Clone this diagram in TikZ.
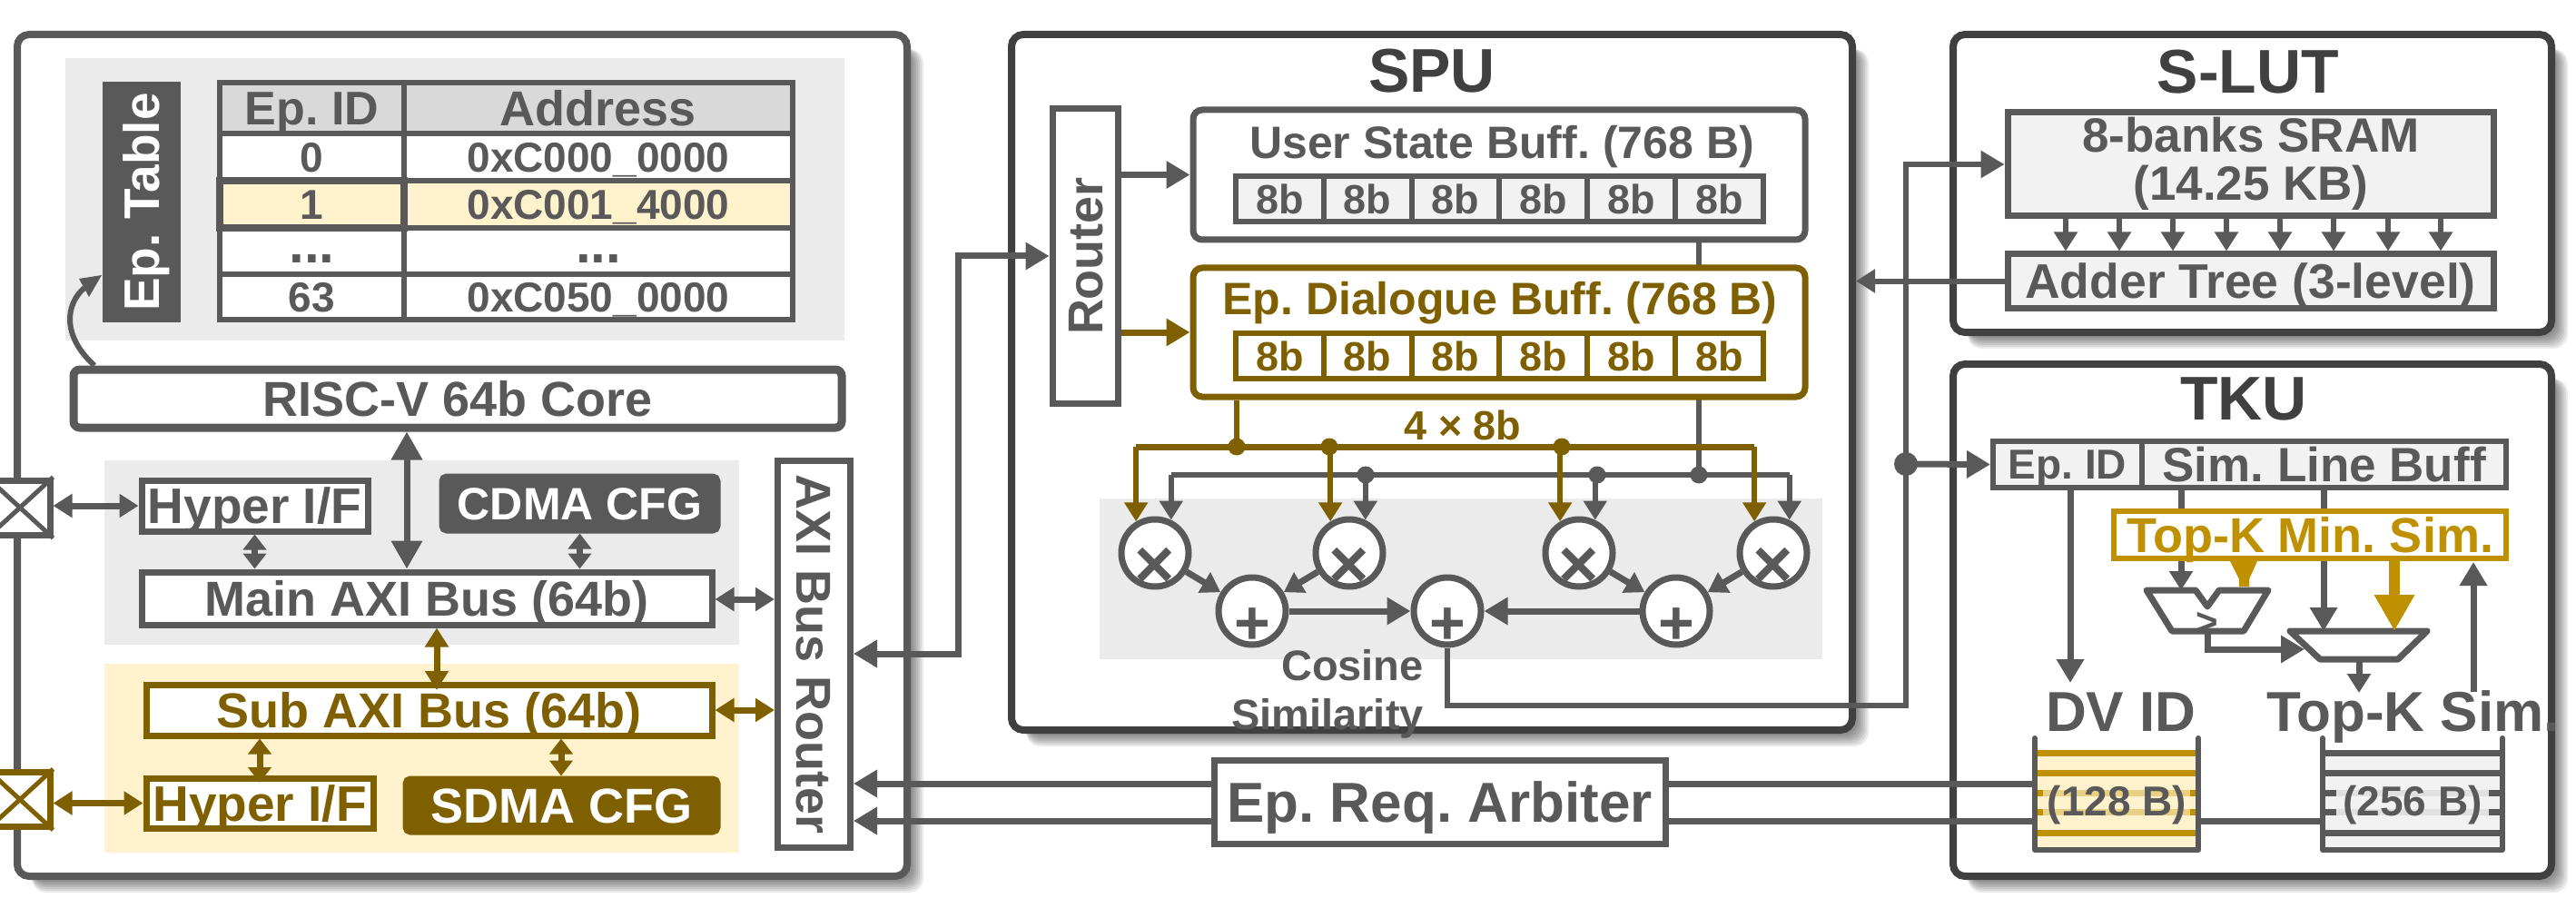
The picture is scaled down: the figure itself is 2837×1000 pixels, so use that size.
\documentclass[tikz,border=0pt]{standalone}
\usepackage{fontspec}
\setmainfont{Liberation Sans}
\usetikzlibrary{arrows.meta,calc}
\definecolor{dg}{HTML}{595959}
\definecolor{dk}{HTML}{404040}
\definecolor{br}{HTML}{7F6000}
\definecolor{au}{HTML}{BF9000}
\definecolor{yl}{HTML}{FFF2CC}
\definecolor{lg}{HTML}{EBEBEB}
\definecolor{hd}{HTML}{D9D9D9}
\definecolor{cf}{HTML}{F2F2F2}
\pgfdeclarelayer{bg}\pgfdeclarelayer{mid}\pgfdeclarelayer{top}
\pgfsetlayers{bg,mid,main,top}
\newcommand\fs[1]{\fontsize{#1}{#1}\selectfont}
\newcommand\tx[2]{{\fs{#1}\raisebox{-.358em}[.358em][.358em]{#2}}}
\newcommand\bx[7]{\node[#6,minimum width={(#4-#2)*1pt},minimum height={(#5-#3)*1pt}] (#1) at ({(#2+#4)/2},{(#3+#5)/2}) {#7};}
\newcommand\softshadow[4]{\foreach \k in {0,...,6}{\fill[black,opacity=.08,rounded corners=16pt] ({#1+16},{#2+16}) rectangle ({#3+6+2*\k},{#4+6+2*\k});}}
\tikzset{
 x=1pt,y=-1pt,
 tss/.tip={Triangle[length=17pt,width=25pt]},
 ts/.tip={Triangle[length=21pt,width=25pt]},
 tm/.tip={Triangle[length=26pt,width=29pt]},
 tl/.tip={Triangle[length=31pt,width=33pt]},
 base/.style={draw=dg,line width=7pt,fill=white,text=dg,font=\bfseries,inner sep=0pt},
 gold/.style={base,draw=br,text=br},
 solidg/.style={base,fill=dg,text=white,rounded corners=5pt},
 solidb/.style={base,draw=br,fill=br,text=white,rounded corners=5pt},
 frame/.style={draw=dk,line width=8pt,fill=white,inner sep=0pt,rounded corners=13pt},
 framet/.style={text=dk,font=\bfseries,inner sep=0pt},
 lab/.style={text=dg,font=\bfseries,inner sep=0pt},
 cel/.style={base,line width=6pt},
 opn/.style={base,circle,minimum size=74pt,line width=7pt},
 gl/.style={draw=dg,line width=7pt,line join=miter},
 bl/.style={draw=br,line width=7pt,line join=miter},
 al/.style={draw=au,line width=12pt},
 dotg/.style={circle,fill=dg,inner sep=0pt,minimum size=19pt},
 dotb/.style={circle,fill=br,inner sep=0pt,minimum size=19pt},
 pad/.style={draw=#1,line width=7pt,fill=white,minimum width=66pt,minimum height=60pt,inner sep=0pt},
}
\begin{document}
\begin{tikzpicture}
\useasboundingbox (0,0) rectangle (2837,1000);
% ---- containers
\begin{pgfonlayer}{bg}
\softshadow{19}{38}{999}{965}
\softshadow{1114}{38}{2040}{804}
\softshadow{2151}{38}{2810}{366}
\softshadow{2151}{401}{2810}{965}
\bx{cpu}{19}{38}{999}{965}{frame,draw=dg}{}
\bx{spu}{1114}{38}{2040}{804}{frame}{}
\bx{slut}{2151}{38}{2810}{366}{frame}{}
\bx{tku}{2151}{401}{2810}{965}{frame}{}
\bx{bgtab}{72}{64}{930}{375}{fill=lg,inner sep=0pt}{}
\bx{bgmain}{115}{507}{814}{710}{fill=lg,inner sep=0pt}{}
\bx{bgsub}{115}{731}{814}{939}{fill=yl,inner sep=0pt}{}
\bx{bgcos}{1211}{549}{2007}{726}{fill=lg,inner sep=0pt}{}
\end{pgfonlayer}
% ---- titles
\node[framet] (tspu) at (1577,77) {\tx{68}{SPU}};
\node[framet] (tslut) at (2476,78) {\tx{68}{S-LUT}};
\node[framet] (ttku) at (2471,438) {\tx{68}{TKU}};
% ---- Ep table
\node[fill=dg,text=white,font=\bfseries,inner sep=0pt,rotate=90,minimum width=265pt,minimum height=86pt] (eptab) at (156,222.5) {\tx{55}{Ep.\ Table}};
\bx{h1}{242}{91}{445}{147}{cel,fill=hd}{\raisebox{2pt}{\tx{52}{Ep.\ ID}}}
\bx{h2}{445}{91}{873}{147}{cel,fill=hd}{\raisebox{2pt}{\tx{54}{Address}}}
\bx{r1a}{242}{147}{445}{199}{cel}{\tx{46}{0}}
\bx{r1b}{445}{147}{873}{199}{cel}{\tx{46}{0xC000\_0000}}
\bx{r3a}{242}{251}{445}{302}{cel}{}
\bx{r3b}{445}{251}{873}{302}{cel}{}
\node[lab,anchor=base] (r3at) at (r3a.center |- 0,290) {\fs{60}...};
\node[lab,anchor=base] (r3bt) at (r3b.center |- 0,290) {\fs{60}...};
\bx{r4a}{242}{302}{445}{352}{cel}{\tx{46}{63}}
\bx{r4b}{445}{302}{873}{352}{cel}{\tx{46}{0xC050\_0000}}
\bx{r2b}{445}{199}{873}{251}{cel,fill=yl}{\tx{46}{0xC001\_4000}}
\bx{r2a}{242}{199}{445}{251}{cel,line width=8pt,fill=yl}{\tx{46}{1}}
% ---- CPU blocks
\bx{core}{81}{407}{927}{471}{base,line width=9pt,rounded corners=7pt}{\tx{54}{RISC-V 64b Core}}
\bx{hy1}{156}{529}{405}{585}{base}{\tx{55}{Hyper I/F}}
\bx{cdma}{487}{525}{790}{584}{solidg}{\tx{50}{CDMA CFG}}
\bx{mainb}{156}{630}{784}{688}{base}{\tx{54}{Main AXI Bus (64b)}}
\bx{subb}{161}{754}{784}{810}{gold}{\tx{54}{Sub AXI Bus (64b)}}
\bx{hy2}{161}{857}{411}{912}{gold}{\tx{55}{Hyper I/F}}
\bx{sdma}{447}{858}{790}{916}{solidb}{\tx{54}{SDMA CFG}}
\node[base,rotate=-90,minimum width=426pt,minimum height=80pt] (axi) at (896.5,720.5) {\tx{54}{AXI Bus Router}};
\node[pad=dg] (pad1) at (22,559) {};
\draw[dg,line width=5pt] (pad1.north west) -- (pad1.south east) (pad1.north east) -- (pad1.south west);
\node[pad=br] (pad2) at (22,880.5) {};
\draw[br,line width=5pt] (pad2.north west) -- (pad2.south east) (pad2.north east) -- (pad2.south west);
% ---- SPU blocks
\node[base,rotate=90,minimum width=324pt,minimum height=72pt] (rt) at (1195,282) {\tx{54}{Router}};
\bx{usr}{1314}{121}{1988}{264}{base,rounded corners=10pt}{}
\node[lab] (usrt) at (1654,157) {\tx{50}{User State Buff.\ (768 B)}};
\bx{epd}{1314}{295}{1988}{437}{gold,rounded corners=10pt}{}
\node[lab,text=br] (epdt) at (1652,329) {\tx{50}{Ep.\ Dialogue Buff.\ (768 B)}};
\foreach \i in {1,...,6}{
 \pgfmathsetmacro\xa{1361+96.8*(\i-1)}
 \pgfmathsetmacro\xb{\xa+96.8}
 \bx{u\i}{\xa}{194}{\xb}{244}{cel,fill=cf}{\tx{45}{8b}}
 \bx{d\i}{\xa}{367}{\xb}{417}{cel,draw=br,text=br}{\tx{45}{8b}}
}
\node[lab,text=br] (fourb) at (1611,468) {\tx{45}{4 × 8b}};
\node[opn] (m1) at (1272,609) {};
\node[opn] (m2) at (1486,609) {};
\node[opn] (m3) at (1739,609) {};
\node[opn] (m4) at (1953,609) {};
\node[opn] (a1) at (1379,673) {};
\node[opn] (a2) at (1594,673) {};
\node[opn] (a3) at (1846,673) {};
\foreach \n in {m1,m2,m3,m4}{\node[lab] (\n t) at ([yshift=-11pt]\n.center) {\tx{76}{×}};}
\foreach \n in {a1,a2,a3}{\node[lab] (\n t) at ([yshift=-12pt]\n.center) {\tx{68}{+}};}
\node[lab,anchor=east] (cos1) at (1568,733) {\tx{47}{Cosine}};
\node[lab,anchor=east] (cos2) at (1568,787) {\tx{47}{Similarity}};
% ---- Arbiter
\bx{arb}{1337}{837}{1834}{929}{base}{\tx{62}{Ep.\ Req.\ Arbiter}}
% ---- S-LUT
\bx{sram}{2211}{124}{2746}{238}{base,fill=cf}{}
\node[lab,align=center,font=\bfseries\fs{53}] (sramt) at (2479,180) {8-banks SRAM\\(14.25 KB)};
\bx{addt}{2211}{280}{2746}{339}{base,fill=cf}{\tx{53.5}{Adder Tree (3-level)}}
% ---- TKU
\bx{bid}{2195}{486}{2359}{537}{cel,fill=cf}{\tx{46}{Ep.\ ID}}
\bx{bsim}{2359}{486}{2760}{537}{cel,fill=cf}{\tx{53}{Sim.\ Line Buff}}
\bx{minsim}{2328}{563}{2760}{615}{base,draw=au,text=au,line width=6pt}{\tx{54}{Top-K Min.\ Sim.}}
\node[lab,anchor=base west] (dv) at (2253,805) {\fs{62}DV ID};
\node[lab,anchor=base west] (topk) at (2496,805) {\fs{62}Top-K Sim.};
\draw[dg,line width=7pt,fill=white,line join=round] (2364,650) -- (2418,650) -- (2431,668) -- (2444,650) -- (2498,650) -- (2471,695) -- (2392,695) -- cycle;
\coordinate (cmpo) at (2431,695);
\coordinate (cmpa) at (2402,650);
\node[lab] (gt) at (2431,684) {\tx{42}{>}};
\draw[dg,line width=7pt,fill=white,line join=round] (2522,695) -- (2673,695) -- (2641,726) -- (2555,726) -- cycle;
\coordinate (muxo) at (2598,726);
\coordinate (muxa) at (2559,695);
\coordinate (muxb) at (2637,695);
\coordinate (muxc) at (2538,715);
% FIFOs
\bx{f1}{2241}{827}{2421}{936}{fill=yl,inner sep=0pt}{}
\bx{f2}{2558}{827}{2756}{936}{fill=cf,inner sep=0pt}{}
\foreach \yy in {873,894}{
 \draw[draw=au!35!yl,line width=7pt] (2244,\yy) -- (2418,\yy);
 \draw[au,line width=7pt] (2244,\yy) -- (2250,\yy) (2412,\yy) -- (2418,\yy);
 \draw[draw=hd!70!cf,line width=7pt] (2561,\yy) -- (2753,\yy);
 \draw[dg,line width=7pt] (2561,\yy) -- (2573,\yy) (2741,\yy) -- (2753,\yy);
}
\foreach \yy in {829,851,917}{
 \draw[au,line width=7pt] (2244,\yy) -- (2418,\yy);
 \draw[dg,line width=7pt] (2561,\yy) -- (2753,\yy);
}
\draw[dg,line width=6pt,line cap=round,line join=round] (2241,813) -- (2241,936) -- (2421,936) -- (2421,813);
\draw[dg,line width=6pt,line cap=round,line join=round] (2558,813) -- (2558,936) -- (2756,936) -- (2756,813);
\node[lab] (t128) at (2331.5,882) {\tx{46}{(128 B)}};
\node[lab] (t256) at (2657,882) {\tx{46}{(256 B)}};
% ---- connectors (below blocks)
\begin{pgfonlayer}{mid}
\coordinate (l1) at (1055,720);
\draw[gl,{tm}-{tm}] (l1 -| axi.north) -- (l1) -- (l1 |- rt.north) -- (rt.north);
\draw[gl,-{tm}] (rt.south |- usr.west) -- (usr.west);
\draw[bl,-{tm}] (rt.south |- epd.west) -- (epd.west);
% user state to gray bus
\coordinate (gg) at (1871,523);
\draw[gl,line width=6pt] (gg |- usr.south) -- (gg);
\draw[gl,line width=6pt] (m1.64 |- gg) -- (m4.64 |- gg);
\foreach \n in {m1,m2,m3,m4}{\draw[gl,line width=6pt,-{ts}] (\n.64 |- gg) -- (\n.64);}
% dialogue to brown bus
\coordinate (bb) at (1362,492);
\draw[bl,line width=6pt] (bb |- epd.south) -- (bb);
\draw[bl] (m1.121 |- bb) -- (m4.121 |- bb);
\foreach \n in {m1,m2,m3,m4}{\draw[bl,line width=6pt,-{ts}] (\n.121 |- bb) -- (\n.121);}
% cosine output
\coordinate (v2) at (2099,777);
\draw[gl,line width=6pt,-{tm}] (a2.south) -- (a2.south |- v2) -- (v2) -- (v2 |- sram.west) -- (sram.west);
% FIFO lines into router
\coordinate (q1) at (2241,863);
\coordinate (q2) at (2558,904);
\draw[gl,{tm}-] (q1 -| axi.north) -- (q1);
\draw[gl,{tm}-] (q2 -| axi.north) -- (q2);
% TKU
\draw[gl,-{ts}] (cmpa |- bsim.south) -- (cmpa);
\draw[gl,-{tm}] (muxa |- bsim.south) -- (muxa);
\coordinate (dvt) at (2280,752);
\draw[gl,-{tm}] (dvt |- bid.south) -- (dvt);
\coordinate (cc) at (448,550);
\draw[gl,{tl}-{tl}] (cc |- core.south) -- (cc |- mainb.north);
\draw[gl,{tss}-{tss}] (hy1.south) -- (hy1.south |- mainb.north);
\draw[gl,{tss}-{tss}] (cdma.south) -- (cdma.south |- mainb.north);
\coordinate (e1) at (800,660);
\draw[gl,{ts}-{ts}] (mainb.east |- e1) -- (axi.south |- e1);
\coordinate (e2) at (800,782);
\draw[bl,{ts}-{ts}] (subb.east |- e2) -- (axi.south |- e2);
\draw[gl,{ts}-{ts}] (pad1.east |- hy1.west) -- (hy1.west);
\draw[bl,{ts}-{ts}] (pad2.east |- hy2.west) -- (hy2.west);
\coordinate (e4) at (618,830);
\draw[bl,{tss}-{tss}] (e4 |- subb.south) -- (e4 |- sdma.north);
\draw[gl,-{ts}] (m1) -- (a1);
\draw[gl,-{ts}] (m2) -- (a1);
\draw[gl,-{ts}] (m3) -- (a3);
\draw[gl,-{ts}] (m4) -- (a3);
\draw[gl,-{tm}] (a1) -- (a2);
\draw[gl,-{tm}] (a3) -- (a2);
\draw[gl,-{ts},line width=6pt] (addt.west) -- (spu.east |- addt.west);
\coordinate (d0) at (2099,511);
\draw[gl,-{tm}] (d0) -- (bid.west);
\foreach \x in {2275,2334,2393,2452,2511,2570,2630,2688}{
 \coordinate (bk) at (\x,260);
 \draw[gl,line width=6pt,-{ts}] (bk |- sram.south) -- (bk |- addt.north);
}
\end{pgfonlayer}
\begin{pgfonlayer}{top}
\coordinate (e3) at (286,862);
\draw[bl,{tss}-{tss}] (e3 |- subb.south) -- (e3);
\coordinate (e5) at (481,760);
\draw[bl,{ts}-{ts}] (e5 |- mainb.south) -- (e5);
\coordinate (cv0) at (104,403);
\coordinate (cv1) at (93,317);
\draw[gl,line width=6pt] (cv0 |- core.north) .. controls (68,370) and (72,335) .. (cv1);
\fill[dg] (112,303) -- (87,307) -- (98,327) -- cycle;
\node[dotg] (dg1) at (1504,523) {};
\node[dotg] (dg2) at (1759,523) {};
\node[dotg] (dg3) at (1871,523) {};
\node[dotb] (db1) at (1362,492) {};
\node[dotb] (db2) at (1464,492) {};
\node[dotb] (db3) at (1720,492) {};
\node[dotg,minimum size=26pt] (d1) at (d0) {};
% TKU top arrows
\draw[gl,-{tm}] (cmpo) -- (cmpo |- muxc) -- (muxc);
\draw[gl,-{ts}] (muxo) -- (2598,763);
\draw[gl,-{tm}] (2724,762) -- (2724,619);
\fill[au] (2456,618) -- (2486,618) -- (2477,638) -- (2477,646) -- (2466,646) -- (2466,638) -- cycle;
\draw[al,-{Triangle[length=40pt,width=42pt]}] (2637,618) -- (muxb);
\end{pgfonlayer}
\end{tikzpicture}
\end{document}
